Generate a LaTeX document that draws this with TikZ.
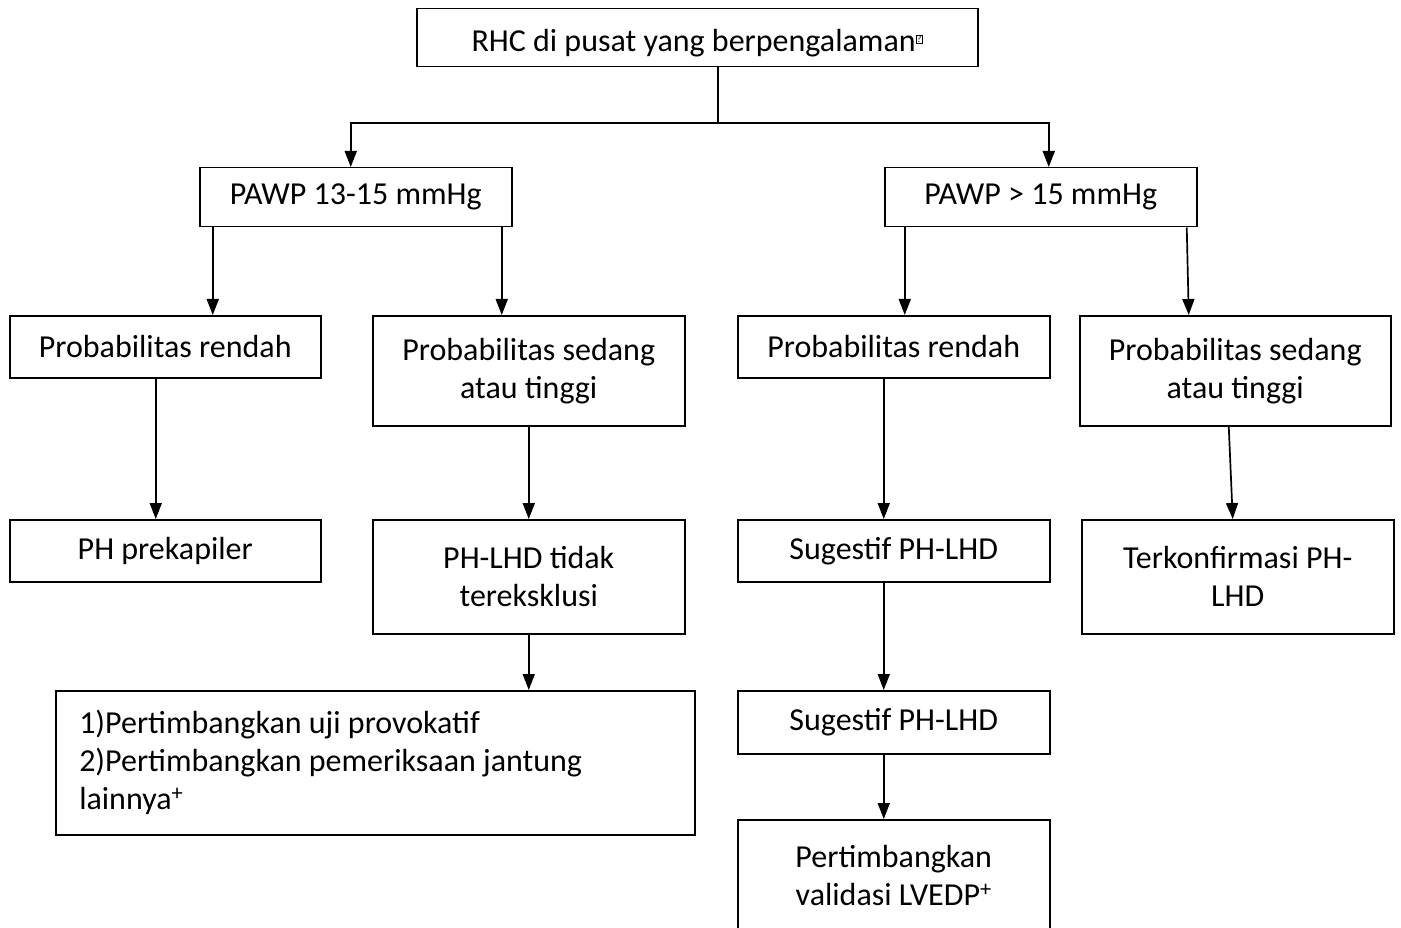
\documentclass[tikz,border=0pt]{standalone}
\usepackage{fontspec}
\setmainfont{Carlito}
\usetikzlibrary{arrows.meta}
\newcommand{\tofu}{\textsuperscript{\setlength{\fboxsep}{0.6pt}\setlength{\fboxrule}{0.5pt}\fbox{\fontsize{10}{10}\selectfont ?}}}
\begin{document}
\begin{tikzpicture}[x=1pt,y=-1pt,
  box/.style={draw, line width=1.5pt, anchor=north west, align=center,
    inner sep=0pt, font=\fontsize{32}{38}\selectfont},
  arr/.style={line width=1.7pt, -{Triangle[length=16pt,width=12pt]}},
  ln/.style={line width=1.7pt}]
\useasboundingbox (0,0) rectangle (1401,928);
\begin{scope}
\clip (0,0) rectangle (1401,928);
% boxes
\node[box, minimum width=561pt, minimum height=58pt, text height=30pt, text depth=2pt] (top) at (416,8) {RHC di pusat yang berpengalaman\tofu};
\node[box, minimum width=312pt, minimum height=59pt] (pawpL) at (199,167) {PAWP 13-15 mmHg};
\node[box, minimum width=312pt, minimum height=59pt] (pawpR) at (884,167) {PAWP > 15 mmHg};
\node[box, minimum width=311pt, minimum height=62pt] (prL) at (9,315) {Probabilitas rendah};
\node[box, minimum width=312pt, minimum height=110pt] (sedL) at (372,315) {Probabilitas sedang\\atau tinggi};
\node[box, minimum width=312pt, minimum height=62pt] (prR) at (737,315) {Probabilitas rendah};
\node[box, minimum width=311pt, minimum height=110pt] (sedR) at (1079,315) {Probabilitas sedang\\atau tinggi};
\node[box, minimum width=311pt, minimum height=62pt] (phpre) at (9,519) {PH prekapiler};
\node[box, minimum width=312pt, minimum height=114pt] (tidak) at (372,519) {PH-LHD tidak\\tereksklusi};
\node[box, minimum width=312pt, minimum height=62pt] (sug1) at (737,519) {Sugestif PH-LHD};
\node[box, minimum width=312pt, minimum height=114pt] (konf) at (1081,519) {Terkonfirmasi PH-\\LHD};
\node[box, minimum width=639pt, minimum height=144pt, text width=592pt, align=flush left] (big) at (55,690)
  {1)Pertimbangkan uji provokatif\\2)Pertimbangkan pemeriksaan jantung\\lainnya\textsuperscript{+}};
\node[box, minimum width=312pt, minimum height=63pt] (sug2) at (737,690) {Sugestif PH-LHD};
\node[box, minimum width=312pt, minimum height=112pt] (val) at (737,819) {Pertimbangkan\\validasi LVEDP\textsuperscript{+}};
% connectors
\coordinate (split) at (718,123);
\draw[ln] (top.south -| split) -- (split);
\draw[arr] (split) -| ([xshift=-5pt]pawpL.north);
\draw[arr] (split) -| ([xshift=8pt]pawpR.north);
\draw[arr] ([xshift=-143pt]pawpL.south) -- ([xshift=47.5pt]prL.north);
\draw[arr] ([xshift=146pt]pawpL.south) -- ([xshift=-27pt]sedL.north);
\draw[arr] ([xshift=-136pt]pawpR.south) -- ([xshift=11pt]prR.north);
\draw[arr] ([xshift=146pt]pawpR.south) -- ([xshift=-46.5pt]sedR.north);
\draw[arr] ([xshift=-9.5pt]prL.south) -- ([xshift=-9.5pt]phpre.north);
\draw[arr] (sedL.south) -- (tidak.north);
\draw[arr] ([xshift=-10pt]prR.south) -- ([xshift=-10pt]sug1.north);
\draw[arr] ([xshift=-6.5pt]sedR.south) -- ([xshift=-5pt]konf.north);
\draw[arr] (tidak.south) -- ([xshift=153.5pt]big.north);
\draw[arr] ([xshift=-10pt]sug1.south) -- ([xshift=-10pt]sug2.north);
\draw[arr] ([xshift=-10pt]sug2.south) -- ([xshift=-10pt]val.north);
\end{scope}
\end{tikzpicture}
\end{document}
